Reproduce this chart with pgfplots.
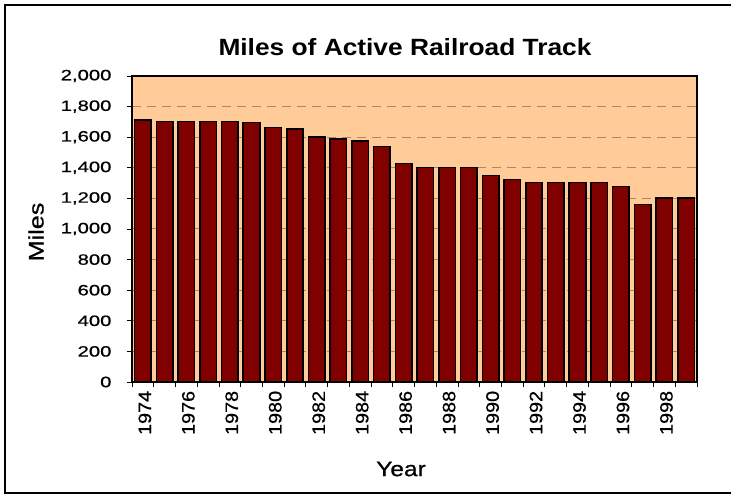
\documentclass[border=0pt]{standalone}
\usepackage{pgfplots}
\pgfplotsset{compat=1.18}
\usepackage{fontspec}
\setmainfont{Liberation Sans}
\newfontfamily\heavy{Liberation Sans}[FakeBold=0.6]

\definecolor{peach}{RGB}{255,204,153}
\definecolor{barred}{RGB}{128,0,0}
\definecolor{gridtan}{RGB}{175,135,95}

\begin{document}
\begin{tikzpicture}
\useasboundingbox (0pt,0pt) rectangle (731pt,496pt);
% outer chart frame (open on the right)
\draw[line width=2.5pt,line cap=rect] (740pt,491pt) -- (5pt,491pt) -- (5pt,3pt) -- (740pt,3pt);

\begin{axis}[
  at={(132pt,114pt)}, anchor=south west,
  scale only axis, width=565pt, height=306pt,
  xmin=-0.5, xmax=25.5, ymin=0, ymax=2000,
  axis background/.style={fill=peach},
  axis line style={line width=2.6pt,black},
  ybar, bar width=16.5pt,
  ytick={0,200,...,2000},
  yticklabels={0,200,400,600,800,{1,000},{1,200},{1,400},{1,600},{1,800},{2,000}},
  xtick={0,2,...,24},
  xticklabels={1974,1976,1978,1980,1982,1984,1986,1988,1990,1992,1994,1996,1998},
  minor xtick={-0.5,0.5,...,25.5},
  tick align=outside,
  major tick length=5pt, minor tick length=5pt,
  x tick style={draw=none},
  minor x tick style={draw=black,line width=0.8pt},
  y tick style={black,line width=0.8pt},
  xtick pos=bottom, ytick pos=left,
  ymajorgrids, grid style={gridtan,dash pattern=on 9pt off 6pt,line width=1pt},
  yticklabel style={font=\heavy\fontsize{15}{18}\selectfont,xscale=1.35,anchor=east,xshift=-8pt},
  xticklabel style={font=\heavy\fontsize{18}{20}\selectfont,rotate=90,xscale=1.1,anchor=east,yshift=-2pt},
  clip=false,
]
\addplot[fill=barred,draw=black,line width=1.6pt] table[x=i,y=miles] {
i  year miles
0  1974 1712
1  1975 1702
2  1976 1702
3  1977 1702
4  1978 1702
5  1979 1695
6  1980 1663
7  1981 1652
8  1982 1600
9  1983 1587
10 1984 1576
11 1985 1540
12 1986 1428
13 1987 1402
14 1988 1402
15 1989 1402
16 1990 1350
17 1991 1324
18 1992 1305
19 1993 1305
20 1994 1305
21 1995 1305
22 1996 1278
23 1997 1160
24 1998 1203
25 1999 1203
};
\end{axis}

\node[font=\fontsize{23.5}{26}\selectfont\bfseries,xscale=1.12] at (405pt,449pt) {Miles of Active Railroad Track};
\node[font=\heavy\fontsize{21}{24}\selectfont,xscale=1.17] at (401pt,27pt) {Year};
\node[font=\heavy\fontsize{21}{24}\selectfont,rotate=90,xscale=1.2] at (36pt,264pt) {Miles};
\end{tikzpicture}
\end{document}
